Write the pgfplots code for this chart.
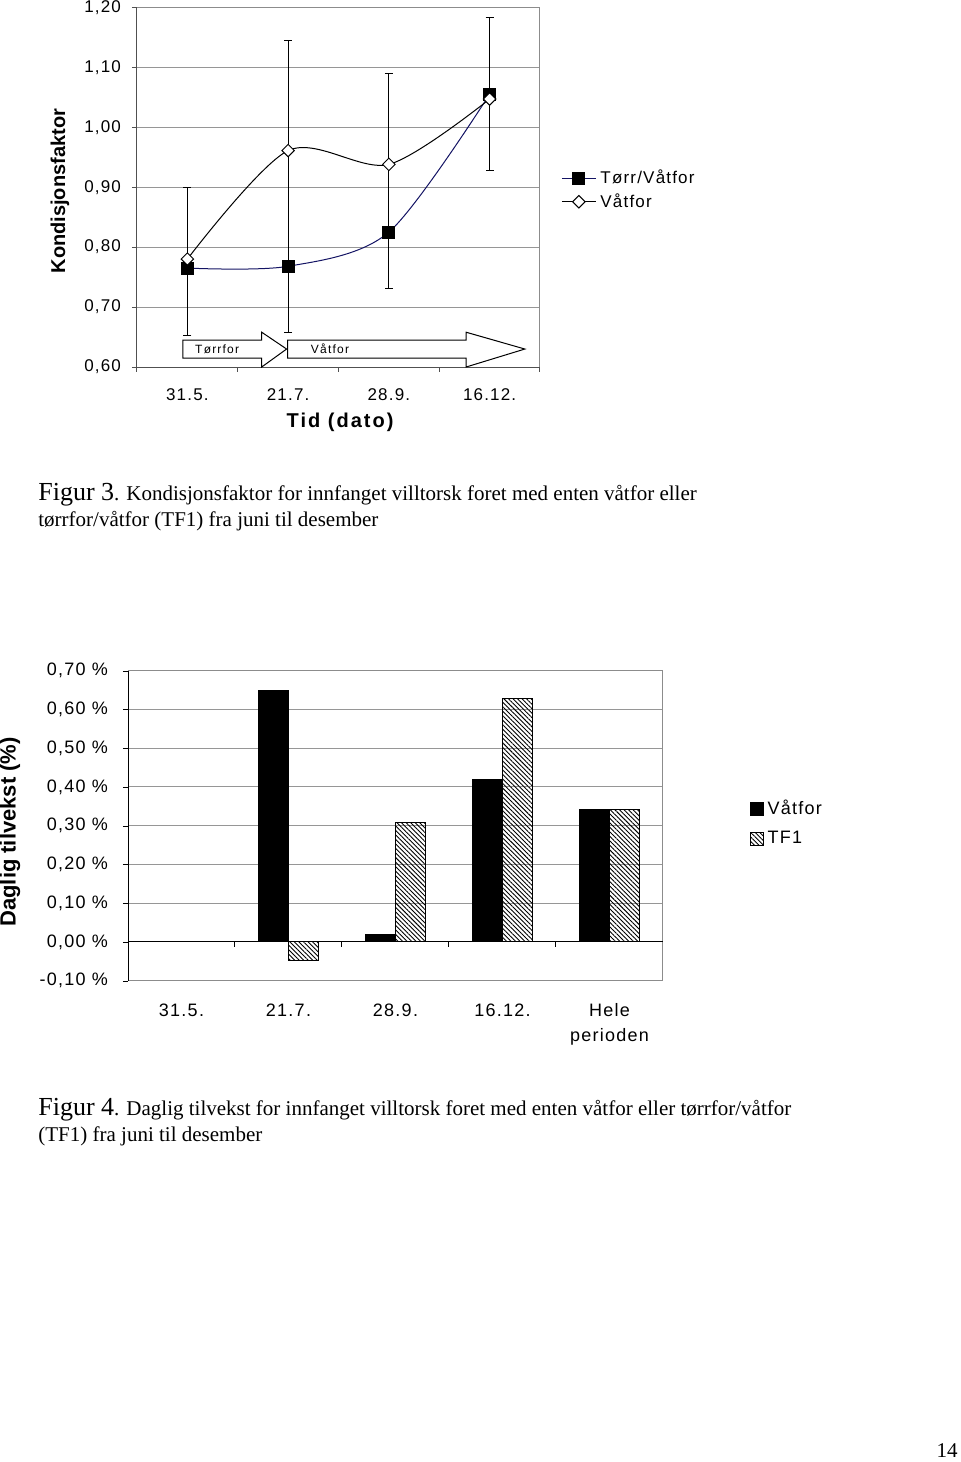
\documentclass[border=0pt]{standalone}
\usepackage{fontspec}
\setmainfont{Liberation Serif}
\newfontfamily\arial[LetterSpace=7]{Liberation Sans}
\newfontfamily\arialwide[LetterSpace=10]{Liberation Sans}
\newfontfamily\arialplain{Liberation Sans}
\usepackage{pgfplots}
\pgfplotsset{compat=1.18}
\usetikzlibrary{patterns.meta}

\definecolor{navyline}{RGB}{20,20,100}
\definecolor{gridgray}{RGB}{150,150,150}
\definecolor{framegray}{RGB}{140,140,140}
\definecolor{axisgray}{RGB}{80,80,80}

\pgfplotsset{sqlegend/.style={legend image code/.code={\draw[##1] (0pt,-3.25pt) rectangle (6.5pt,3.25pt);}}}

\begin{document}
\begin{tikzpicture}
\useasboundingbox (0,0) rectangle (480pt,-731pt);

% ---------- Figur 3: Kondisjonsfaktor ----------
\begin{axis}[
  at={(68.5pt,-183.5pt)}, anchor=south west,
  scale only axis, width=201.5pt, height=179.85pt,
  xmin=0.5, xmax=4.5, ymin=0.6, ymax=1.2,
  clip=false,
  axis x line*=bottom, axis y line*=left,
  axis line style={axisgray, line width=0.5pt},
  ymajorgrids, grid style={gridgray, line width=0.5pt},
  tick align=outside, major tick length=2.5pt,
  ytick style={axisgray}, xtick style={draw=none},
  ytick={0.6,0.7,0.8,0.9,1.0,1.1,1.2},
  yticklabels={{0,60},{0,70},{0,80},{0,90},{1,00},{1,10},{1,20}},
  xtick={1,2,3,4},
  xticklabels={31.5.,21.7.,28.9.,16.12.},
  tick label style={font=\arial\fontsize{8.5}{10}\selectfont},
  yticklabel style={xshift=-2pt},
  xticklabel style={yshift=-5pt},
  xlabel={Tid (dato)},
  xlabel style={font=\arialwide\bfseries\fontsize{10}{12}\selectfont,
    at={(axis description cs:0.504,-0.153)}, anchor=center},
  ylabel={Kondisjonsfaktor},
  ylabel style={font=\arialplain\bfseries\fontsize{10}{12}\selectfont,
    at={(axis description cs:-0.191,0.489)}, anchor=center},
  legend style={at={(axis description cs:1.037,0.572)}, anchor=north west,
    draw=none, fill=none, font=\arial\fontsize{8.5}{10}\selectfont,
    row sep=-0.5pt},
  legend cell align=left,
]
\addplot[navyline, line width=0.5pt, smooth, mark=square*,
  mark options={black, fill=black, solid}, mark size=3pt,
  error bars/.cd, y dir=both, y explicit,
  error bar style={black, line width=0.5pt},
  error mark options={rotate=90, black, mark size=2pt, line width=0.5pt}]
  coordinates {
  (1,0.765) += (0,0.134) -= (0,0.112)
  (2,0.768) += (0,0.377) -= (0,0.110)
  (3,0.825) += (0,0.265) -= (0,0.094)
  (4,1.055) += (0,0.128) -= (0,0.127)
  };
\addlegendentry{Tørr/Våtfor}
\addplot[black, line width=0.5pt, smooth, mark=square*,
  mark options={rotate=45, fill=white, draw=black, solid}, mark size=2.2pt]
  coordinates {(1,0.780) (2,0.961) (3,0.938) (4,1.047)};
\addlegendentry{Våtfor}

\draw[framegray, line width=0.5pt] (rel axis cs:0,1) -- (rel axis cs:1,1) -- (rel axis cs:1,0);
\pgfplotsinvokeforeach{0.5,1.5,2.5,3.5,4.5}{\draw[axisgray, line width=0.5pt] (axis cs:#1,0.6) -- ++(0pt,-2.5pt);}

\draw[black, fill=white, line width=0.5pt]
  (axis cs:0.955,0.645) -- (axis cs:1.738,0.645) -- (axis cs:1.738,0.658)
  -- (axis cs:1.985,0.630) -- (axis cs:1.738,0.600) -- (axis cs:1.738,0.615)
  -- (axis cs:0.955,0.615) -- cycle;
\draw[black, fill=white, line width=0.5pt]
  (axis cs:1.995,0.645) -- (axis cs:3.767,0.645) -- (axis cs:3.767,0.658)
  -- (axis cs:4.35,0.630) -- (axis cs:3.767,0.600) -- (axis cs:3.767,0.615)
  -- (axis cs:1.995,0.615) -- cycle;
\node[font=\arialwide\fontsize{6}{7}\selectfont, anchor=west, inner sep=0pt] at (axis cs:1.074,0.630) {Tørrfor};
\node[font=\arialwide\fontsize{6}{7}\selectfont, anchor=west, inner sep=0pt] at (axis cs:2.223,0.630) {Våtfor};
\end{axis}

\node[anchor=base west, align=left, inner sep=0pt, font=\fontsize{10.5}{13}\selectfont]
  at (19pt,-263pt) {{\fontsize{13}{13}\selectfont Figur 3}. Kondisjonsfaktor for innfanget villtorsk foret med enten våtfor eller\\tørrfor/våtfor (TF1) fra juni til desember};

% ---------- Figur 4: Daglig tilvekst ----------
\begin{axis}[
  at={(64pt,-490.35pt)}, anchor=south west,
  scale only axis, width=267.5pt, height=155pt,
  xmin=-0.5, xmax=4.5, ymin=-0.1, ymax=0.7,
  clip=false,
  ybar=0pt, bar width=0.285,
  axis x line*=bottom, axis y line*=left,
  x axis line style={framegray, line width=0.5pt},
  y axis line style={black, line width=0.5pt},
  ymajorgrids, grid style={gridgray, line width=0.5pt},
  tick align=outside, major tick length=2.5pt,
  ytick style={black}, xtick style={draw=none},
  ytick={-0.1,0,0.1,0.2,0.3,0.4,0.5,0.6,0.7},
  yticklabels={{-0,10 \%},{0,00 \%},{0,10 \%},{0,20 \%},{0,30 \%},{0,40 \%},{0,50 \%},{0,60 \%},{0,70 \%}},
  xtick={0,1,2,3,4},
  xticklabels={31.5.,21.7.,28.9.,16.12.,{Hele\\perioden}},
  tick label style={font=\arial\fontsize{9}{12.5}\selectfont},
  xticklabel style={align=center, yshift=-5.5pt},
  yticklabel style={xshift=-4pt},
  ylabel={Daglig tilvekst (\%)},
  ylabel style={font=\arialplain\bfseries\fontsize{11}{13}\selectfont,
    at={(axis description cs:-0.2206,0.48)}, anchor=center},
  legend style={at={(axis description cs:1.150,0.61)}, anchor=north west,
    draw=none, fill=none, font=\arial\fontsize{9}{10.5}\selectfont,
    row sep=3pt},
  legend cell align=left,
]
\addplot[fill=black, draw=black, line width=0.5pt, sqlegend]
  coordinates {(1,0.650) (2,0.020) (3,0.420) (4,0.342)};
\addlegendentry{Våtfor}
\addplot[draw=black, line width=0.5pt,
  pattern={Lines[angle=-45,distance=1.6pt,line width=0.45pt]}, sqlegend]
  coordinates {(1,-0.047) (2,0.308) (3,0.628) (4,0.343)};
\addlegendentry{TF1}

\draw[framegray, line width=0.5pt] (rel axis cs:0,1) -- (rel axis cs:1,1) -- (rel axis cs:1,0);
\draw[black, line width=0.5pt] (axis cs:-0.5,0) -- (axis cs:4.5,0);
\pgfplotsinvokeforeach{0.5,1.5,2.5,3.5}{\draw[black, line width=0.5pt] (axis cs:#1,0) -- ++(0pt,-2.5pt);}
\end{axis}

\node[anchor=base west, align=left, inner sep=0pt, font=\fontsize{10.5}{13}\selectfont]
  at (19pt,-570.5pt) {{\fontsize{13}{13}\selectfont Figur 4}. Daglig tilvekst for innfanget villtorsk foret med enten våtfor eller tørrfor/våtfor\\(TF1) fra juni til desember};

\node[anchor=base east, inner sep=0pt, font=\fontsize{10.5}{12}\selectfont] at (479pt,-728.5pt) {14};
\end{tikzpicture}
\end{document}
